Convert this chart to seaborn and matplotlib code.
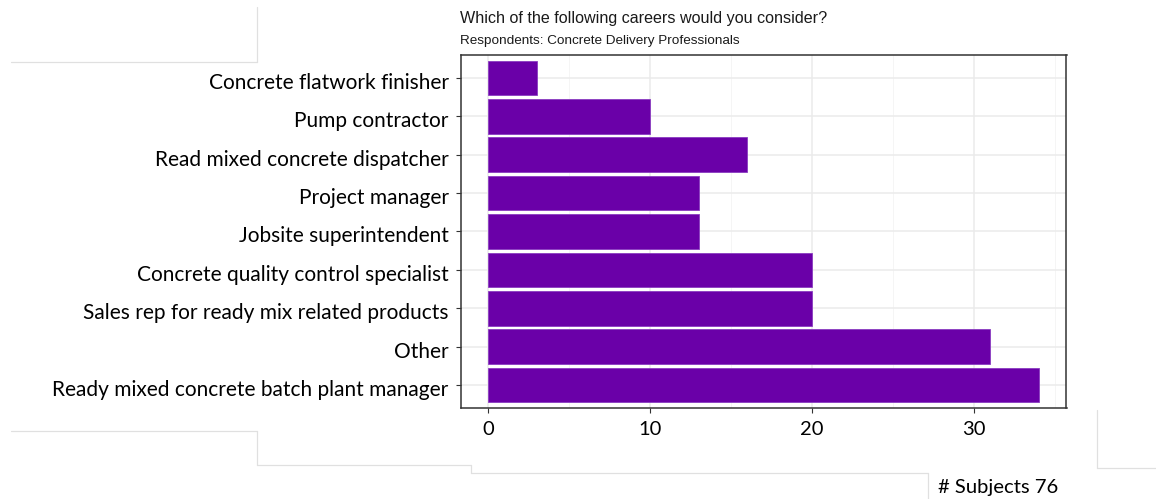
import matplotlib
matplotlib.use("Agg")
import matplotlib.pyplot as plt
import matplotlib.transforms as mtransforms
from matplotlib.lines import Line2D
from matplotlib.ticker import MultipleLocator
import seaborn as sns
import pandas as pd

# Survey answers, listed top to bottom
careers = [
    "Concrete flatwork finisher",
    "Pump contractor",
    "Read mixed concrete dispatcher",
    "Project manager",
    "Jobsite superintendent",
    "Concrete quality control specialist",
    "Sales rep for ready mix related products",
    "Other",
    "Ready mixed concrete batch plant manager",
]
counts = [3, 10, 16, 13, 13, 20, 20, 31, 34]
x_ticks = [0, 10, 20, 30]
n_subjects = 76

title = "Which of the following careers would you consider?"
subtitle = "Respondents: Concrete Delivery Professionals"

df = pd.DataFrame({"career": careers, "count": counts})

sns.set_theme(style="white")
plt.rcParams["font.family"] = ["Lato", "DejaVu Sans"]

W, H = 1156, 499
fig = plt.figure(figsize=(W / 100, H / 100), dpi=100)

def fx(px):
    return px / W

def fy(py):
    return 1 - py / H

ax = fig.add_axes([fx(460.5), fy(408), fx(1066.5) - fx(460.5), fy(55) - fy(408)])

sns.barplot(data=df, x="count", y="career", order=careers, orient="h",
            color="#6a00a8", saturation=1, width=0.9, edgecolor="#8a3cc0",
            linewidth=0.6, ax=ax, zorder=3)

# ggplot-like expansion around the data
xmax = max(counts)
ax.set_xlim(-0.05 * xmax, 1.05 * xmax)
ax.set_ylim(len(careers) - 1 + 0.6, -0.6)

ax.set_xticks(x_ticks)
ax.xaxis.set_minor_locator(MultipleLocator(5))
ax.grid(which="major", axis="both", color="#ebebeb", linewidth=1.1, zorder=0)
ax.grid(which="minor", axis="x", color="#f4f4f4", linewidth=0.6, zorder=0)
ax.set_axisbelow(True)

for s in ax.spines.values():
    s.set_visible(True)
    s.set_color("#333333")
    s.set_linewidth(1.1)

ax.tick_params(axis="both", which="major", length=3.5, width=0.8, color="#333333",
               labelcolor="black", pad=5, left=True, bottom=True)
ax.tick_params(axis="y", labelsize=15)
ax.tick_params(axis="x", which="minor", length=0)
ax.tick_params(axis="x", labelsize=14.5, pad=6)
ax.set_xlabel("")
ax.set_ylabel("")

# category labels sit slightly below their tick marks
shift = mtransforms.ScaledTranslation(0, -3 / 100, fig.dpi_scale_trans)
for lab in ax.get_yticklabels():
    lab.set_transform(lab.get_transform() + shift)

fig.text(fx(460), fy(23), title, fontsize=11.6, family=["Liberation Sans"],
         color="#1a1a1a", va="baseline", ha="left")
fig.text(fx(460), fy(44), subtitle, fontsize=9.7, family=["Liberation Sans"],
         color="#1a1a1a", va="baseline", ha="left")

fig.text(fx(938), fy(487), f"# Subjects {n_subjects}", fontsize=14.6, color="black",
         va="center", ha="left")

# thin frame lines around the panels of the slide
frame_color = "#e0e0e0"
frame_segments = [
    ([257, 257], [7, 62]),
    ([11, 257], [62, 62]),
    ([11, 257], [431, 431]),
    ([257, 257], [431, 465]),
    ([257, 471], [465, 465]),
    ([471, 471], [465, 473]),
    ([471, 928], [473, 473]),
    ([928, 928], [473, 499]),
    ([1097, 1097], [410, 468]),
    ([1097, 1156], [468, 468]),
]
for xs, ys in frame_segments:
    fig.add_artist(Line2D([fx(v) for v in xs], [fy(v) for v in ys],
                          color=frame_color, linewidth=0.9))

fig.savefig("out.png", dpi=100)
